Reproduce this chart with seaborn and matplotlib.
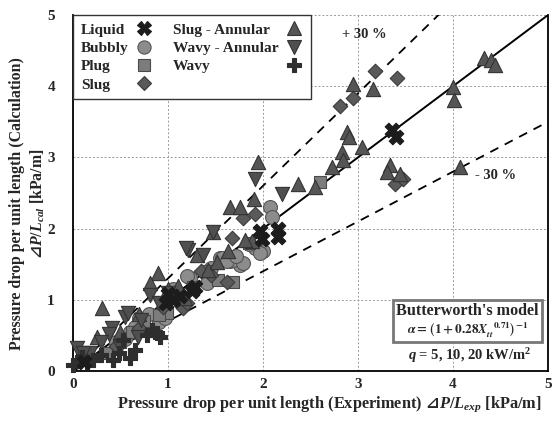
import numpy as np
import pandas as pd
import seaborn as sns
import matplotlib.pyplot as plt
from matplotlib.lines import Line2D
from matplotlib.offsetbox import TextArea, VPacker, AnchoredOffsetbox

liquid_x = [3.36, 3.40, 1.97, 1.99, 2.16, 2.16, 1.00, 1.05, 1.13, 1.28, 1.25, 0.98, 0.12]
liquid_y = [3.38, 3.29, 1.96, 1.86, 2.00, 1.88, 1.08, 1.00, 1.05, 1.18, 1.12, 0.95, 0.12]

bubbly_x = [2.07, 2.09, 2.00, 1.92, 1.70, 1.65, 1.55, 1.76, 1.97, 1.68, 1.23, 1.41, 1.57, 0.70,
            0.91, 0.97, 1.20, 1.62, 1.79, 1.72, 1.13, 0.60, 0.55, 0.80, 1.85, 1.45, 1.05, 0.65, 0.45]
bubbly_y = [2.30, 2.16, 1.68, 1.73, 1.56, 1.54, 1.59, 1.49, 1.66, 1.56, 1.31, 1.24, 1.59, 0.75,
            0.69, 0.75, 1.33, 1.54, 1.52, 1.61, 0.97, 0.55, 0.45, 0.80, 1.78, 1.45, 1.15, 0.62, 0.40]

plug_x = [2.60, 1.68, 1.53, 1.26, 0.99, 0.90, 1.85, 1.40, 0.75, 0.50, 0.35, 1.10, 0.62]
plug_y = [2.65, 1.25, 1.28, 1.18, 0.82, 0.79, 1.80, 1.40, 0.70, 0.40, 0.25, 1.02, 0.55]

slug_x = [3.18, 3.41, 2.81, 2.95, 3.39, 3.47, 1.79, 1.92, 1.67, 1.62, 1.16, 1.20, 1.45, 0.95,
          0.70, 0.45, 1.35, 1.02]
slug_y = [4.21, 4.12, 3.72, 3.84, 2.62, 2.69, 2.15, 2.20, 1.87, 1.25, 0.89, 0.95, 1.35, 0.90,
          0.60, 0.35, 1.40, 1.05]

slug_ann_x = [4.33, 4.40, 4.44, 4.00, 4.01, 4.07, 2.95, 3.16, 2.88, 2.90, 2.83, 2.84, 2.73, 3.04,
              3.34, 3.44, 3.30, 2.37, 2.55, 1.95, 1.65, 1.76, 1.90, 1.47, 1.42, 1.63, 1.30, 1.52,
              1.88, 1.81, 1.18, 0.89, 0.81, 0.31, 0.25, 1.00, 0.70, 0.50, 0.15, 1.10]
slug_ann_y = [4.40, 4.37, 4.30, 3.99, 3.80, 2.87, 4.03, 3.96, 3.35, 3.28, 3.08, 2.97, 2.87, 3.14,
              2.90, 2.76, 2.80, 2.62, 2.58, 2.94, 2.31, 2.30, 2.41, 1.95, 1.42, 1.68, 1.63, 1.53,
              1.82, 1.84, 1.03, 1.38, 1.24, 0.89, 0.48, 1.15, 0.80, 0.55, 0.20, 1.20]

wavy_ann_x = [1.92, 2.20, 1.21, 1.37, 0.81, 0.55, 0.41, 0.68, 0.18, 0.04, 1.19, 0.58, 0.38,
              0.72, 0.49, 0.11, 1.47, 1.00, 0.30, 0.90]
wavy_ann_y = [2.69, 2.48, 1.70, 1.63, 1.07, 0.76, 0.60, 0.48, 0.25, 0.32, 1.73, 0.82, 0.52,
              0.72, 0.34, 0.25, 1.95, 1.10, 0.40, 0.95]

wavy_x = [0.00, 0.15, 0.21, 0.42, 0.60, 0.53, 0.78, 0.88, 0.92, 0.83, 0.05, 0.10, 0.30, 0.65, 0.48]
wavy_y = [0.08, 0.13, 0.15, 0.15, 0.18, 0.44, 0.50, 0.53, 0.48, 0.58, 0.14, 0.20, 0.22, 0.30, 0.25]

regimes = ['Liquid', 'Bubbly', 'Plug', 'Slug', 'Slug - Annular', 'Wavy - Annular', 'Wavy']
dados = {
    'Liquid': (liquid_x, liquid_y),
    'Bubbly': (bubbly_x, bubbly_y),
    'Plug': (plug_x, plug_y),
    'Slug': (slug_x, slug_y),
    'Slug - Annular': (slug_ann_x, slug_ann_y),
    'Wavy - Annular': (wavy_ann_x, wavy_ann_y),
    'Wavy': (wavy_x, wavy_y),
}

linhas = []
for r in regimes:
    for a, b in zip(*dados[r]):
        linhas.append({'Regime': r, 'Exp': a, 'Cal': b})
df = pd.DataFrame(linhas)

# marcador, cor, borda, tamanho
estilos = {
    'Liquid': ('X', '#1c1c1c', '#1c1c1c', 110),
    'Bubbly': ('o', '#8c8c8c', '#555555', 100),
    'Plug': ('s', '#7c7c7c', '#4a4a4a', 80),
    'Slug': ('D', '#5a5a5a', '#3a3a3a', 55),
    'Slug - Annular': ('^', '#555555', '#333333', 105),
    'Wavy - Annular': ('v', '#4f4f4f', '#333333', 105),
    'Wavy': ('P', '#2e2e2e', '#2e2e2e', 110),
}

sns.set_theme(style='white')
plt.rcParams['font.family'] = ['Liberation Serif', 'DejaVu Sans']
plt.rcParams['font.weight'] = 'bold'
plt.rcParams['mathtext.fontset'] = 'custom'
plt.rcParams['mathtext.rm'] = 'Liberation Serif:bold'
plt.rcParams['mathtext.it'] = 'Liberation Serif:italic:bold'
plt.rcParams['mathtext.bf'] = 'Liberation Serif:bold'
plt.rcParams['mathtext.sf'] = 'DejaVu Sans'

fig = plt.figure(figsize=(5.53, 4.23), dpi=100)
ax = fig.add_axes([0.132, 0.123, 0.859, 0.8415])

# linhas de referência: 0 %, +30 %, -30 %
xr = np.array([0, 5])
ax.plot(xr, xr, color='black', lw=1.4, zorder=1)
ax.plot(xr, 1.3 * xr, color='black', lw=1.3, ls=(0, (5, 4)), zorder=1)
ax.plot(xr, 0.7 * xr, color='black', lw=1.3, ls=(0, (5, 4)), zorder=1)

ordem = ['Bubbly', 'Plug', 'Slug', 'Slug - Annular', 'Wavy - Annular', 'Wavy', 'Liquid']
for r in ordem:
    m, c, e, s = estilos[r]
    sns.scatterplot(data=df[df['Regime'] == r], x='Exp', y='Cal', marker=m, color=c,
                    edgecolor=e, linewidth=0.8, s=s, ax=ax, zorder=3, clip_on=False, legend=False)

ax.set_xlim(0, 5)
ax.set_ylim(0, 5)
ax.set_xticks(range(6))
ax.set_yticks(range(6))
ax.tick_params(labelsize=11, direction='in', length=3, color='black')
ax.tick_params(axis='y', pad=13)
ax.tick_params(axis='x', pad=5)
for t in ax.get_xticklabels() + ax.get_yticklabels():
    t.set_fontweight('bold')
ax.grid(True, color='#9a9a9a', ls=(0, (2, 2)), lw=0.7)
for lado in ['left', 'bottom', 'right']:
    ax.spines[lado].set_color('black')
    ax.spines[lado].set_linewidth(1.3)
ax.spines['top'].set_visible(False)

ax.set_xlabel(r'Pressure drop per unit length (Experiment) $\mathsf{⊿}P/L_{exp}$ [kPa/m]',
              fontsize=11.8, fontweight='bold')
ax.xaxis.set_label_coords(0.54, -0.065)
ax.set_ylabel('Pressure drop per unit length (Calculation)\n' + r'$\mathsf{⊿}P/L_{cal}$ [kPa/m]',
              fontsize=11.4, fontweight='bold', linespacing=1.25)
ax.yaxis.set_label_coords(-0.055, 0.47)

# legenda
handles = []
for r in regimes:
    m, c, e, s = estilos[r]
    handles.append(Line2D([], [], marker=m, ls='none', markerfacecolor=c, markeredgecolor=e,
                          markersize=np.sqrt(s) * 0.95, markeredgewidth=0.8))
fs_leg = 11.1
leg = ax.legend(handles, regimes, ncol=2, loc='upper left', bbox_to_anchor=(0, 1),
                borderaxespad=0, markerfirst=False, frameon=True, fancybox=False,
                framealpha=1, edgecolor='#333333', prop={'weight': 'bold', 'size': fs_leg},
                labelspacing=0.3, handletextpad=0.4, columnspacing=1.3, handlelength=1.2,
                borderpad=0.5)
leg.get_frame().set_linewidth(1.0)
leg.set_zorder(5)

# texto alinhado à esquerda e marcadores alinhados à direita em cada coluna
fig.canvas.draw()
rend = fig.canvas.get_renderer()
for col in leg._legend_handle_box.get_children():
    col.align = 'left'
    rows = col.get_children()
    larg = [row.get_children()[0].get_window_extent(rend).width for row in rows]
    for row, w in zip(rows, larg):
        row.sep = 0.4 * fs_leg + (max(larg) - w) * 72 / fig.dpi

ax.text(3.07, 4.73, '+ 30 %', fontsize=10.5, fontweight='bold', ha='center', va='center')
ax.text(4.45, 2.74, '- 30 %', fontsize=10.5, fontweight='bold', ha='center', va='center')

# caixa do modelo
titulo = TextArea("Butterworth's model", textprops=dict(fontsize=11.6, fontweight='bold'))
formula = TextArea(r'$\alpha = \left(1 + 0.28X_{tt}^{\ \ 0.71}\right)^{-1}$',
                   textprops=dict(fontsize=9.5, fontweight='normal', math_fontfamily='stix'))
pack = VPacker(children=[titulo, formula], align='center', pad=0, sep=1)
caixa = AnchoredOffsetbox(loc='lower right', child=pack, pad=0.2, borderpad=0,
                          bbox_to_anchor=(0.987, 0.081), bbox_transform=ax.transAxes,
                          frameon=True)
caixa.patch.set_edgecolor('#777777')
caixa.patch.set_linewidth(2)
caixa.patch.set_facecolor('white')
caixa.set_zorder(5)
ax.add_artist(caixa)

ax.text(0.836, 0.042, r'$q$ = 5, 10, 20 kW/m$^{2}$', transform=ax.transAxes,
        fontsize=10.5, fontweight='bold', ha='center', va='center')

fig.savefig('out.png', dpi=100)
